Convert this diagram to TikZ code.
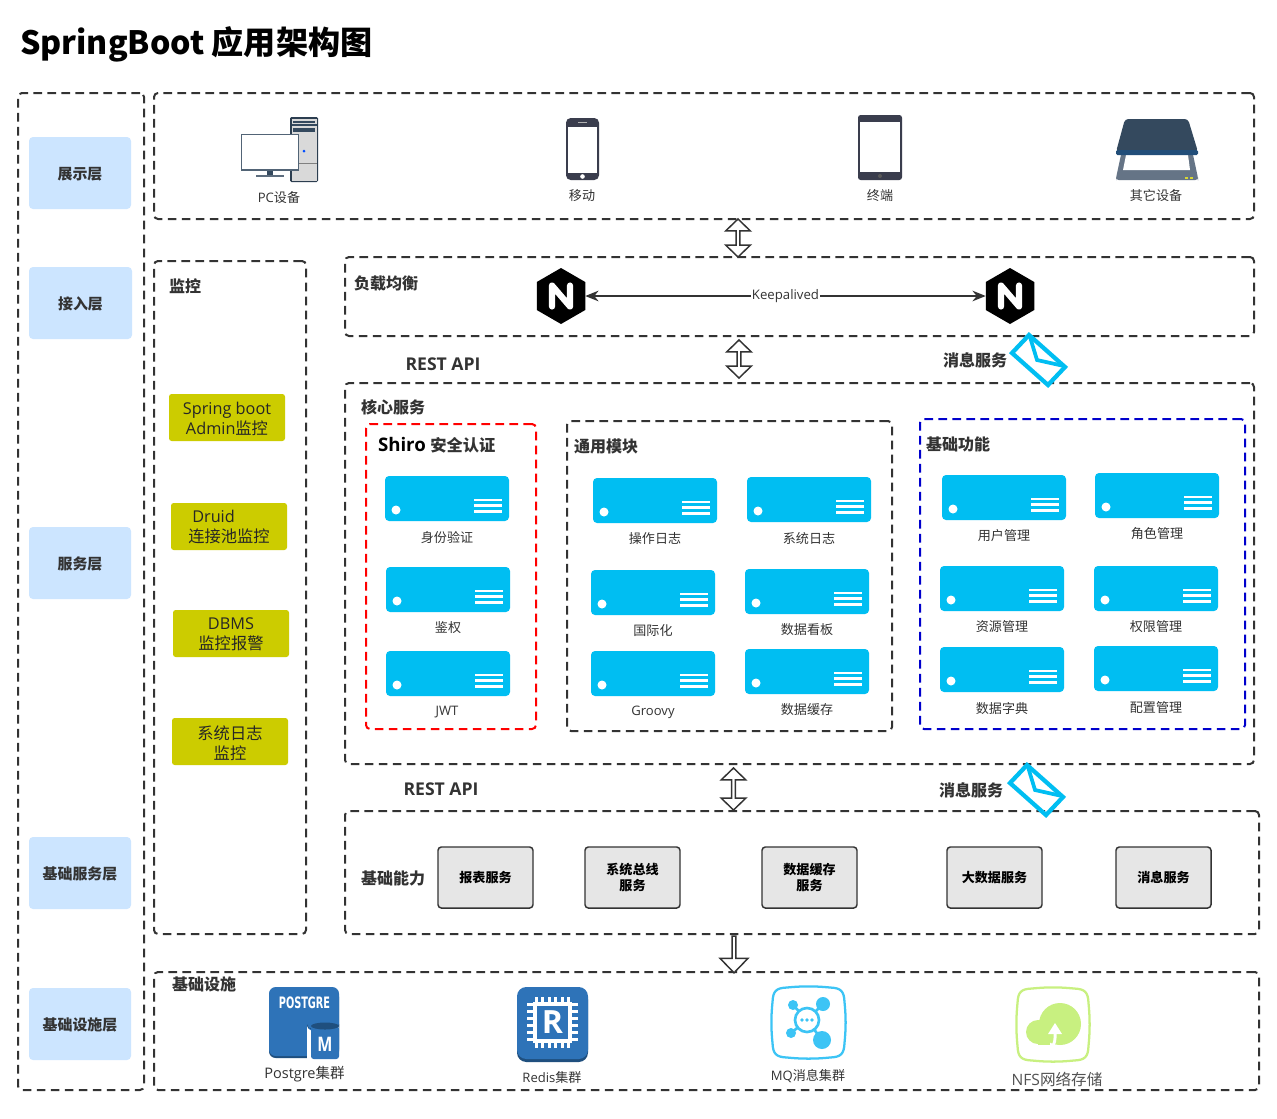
\documentclass[tikz,border=0pt]{standalone}
\usepackage{fontspec}
\setmainfont{Noto Sans CJK SC}
\newfontfamily\lat{Open Sans}
\newfontfamily\djv{DejaVu Sans}
\usetikzlibrary{shapes.geometric,shapes.arrows,arrows.meta}
\definecolor{ink}{HTML}{333333}
\definecolor{cyanb}{HTML}{00BEF2}
\definecolor{layerb}{HTML}{CCE5FF}
\definecolor{yel}{HTML}{CCCC00}
\definecolor{greyb}{HTML}{E6E6E6}
\definecolor{awsb}{HTML}{2E73B8}
\definecolor{awsd}{HTML}{1F4F7E}
\definecolor{dev}{HTML}{3A3D4D}
\definecolor{slate}{HTML}{34495E}
\definecolor{scanb}{HTML}{657486}
\definecolor{mq}{HTML}{3CC4F5}
\definecolor{nfs}{HTML}{C8F080}
\tikzset{
  x=0.75pt,y=-0.75pt,
  every node/.style={inner sep=0pt,outer sep=0pt,text=ink,align=center},
  panel/.style={draw=ink,line width=1.5pt,dash pattern=on 6.5pt off 4pt,rounded corners=3pt},
  layerbox/.style={fill=layerb,rounded corners=3pt,font=\fontsize{11.2pt}{13pt}\selectfont\bfseries},
  yelbox/.style={fill=yel,rounded corners=2pt,font=\fontsize{12.2pt}{15pt}\selectfont,text=black!85},
  greybox/.style={fill=greyb,draw=ink,line width=1.1pt,rounded corners=2.5pt,font=\fontsize{9.8pt}{12pt}\selectfont\bfseries,text=black},
  head/.style={font=\fontsize{12pt}{14pt}\selectfont\bfseries},
  resthead/.style={font=\fontsize{13.2pt}{14pt}\selectfont\bfseries\lat},
  small/.style={font=\fontsize{9.8pt}{12pt}\selectfont},
  blockarrow/.style={draw=ink,line width=1.1pt,fill=white,double arrow,double arrow tip angle=92,double arrow head extend=3pt,minimum width=18.5pt},
  blockdown/.style={draw=ink,line width=1.1pt,fill=white,single arrow,single arrow tip angle=88,single arrow head extend=3.6pt,minimum width=21pt},
  nginx/.style={regular polygon,regular polygon sides=6,shape border rotate=30,fill=black,minimum size=42pt},
  link/.style={draw=ink,line width=1.2pt,{Stealth[length=10pt,width=8pt]}-{Stealth[length=10pt,width=8pt]}},
}
% shift the text of a box down without changing the box
\newcommand{\nudge}[2]{\raisebox{-#1}[\height][\depth]{\begin{tabular}{@{}c@{}}#2\end{tabular}}}
% box from corner to corner
\newcommand{\bx}[7][]{\pgfmathsetmacro{\cxx}{(#3+#5)/2}\pgfmathsetmacro{\cyy}{(#4+#6)/2}\pgfmathsetmacro{\ww}{(#5-#3)*0.75}\pgfmathsetmacro{\hh}{(#6-#4)*0.75}%
  \node[#1,minimum width=\ww pt,minimum height=\hh pt] (#2) at (\cxx,\cyy) {#7};}
% server icon: name, x, y, label, label x, label y
\newcommand{\srv}[6]{%
  \begin{scope}[shift={(#2,#3)}]
    \fill[cyanb,rounded corners=3pt] (0,0) rectangle (124,45);
    \fill[white] (11,34) circle[radius=4.5];
    \foreach \ly in {24,29.7,35.3}{\fill[white] (89,\ly-1.45) rectangle (116.5,\ly+1.45);}
    \coordinate (#1) at (62,22);
  \end{scope}
  \node[small] (#1l) at (#5,#6+1) {#4};}
\newcommand{\envelope}[3]{%
  \begin{scope}[shift={(#2,#3)}]
    \draw[cyanb,line width=3.2pt,miter limit=10,line join=miter] (1012,353)--(1029,335)--(1065,367)--(1048,385)--cycle;
    \draw[cyanb,line width=2.8pt,line join=miter] (1030,337)--(1037,360)--(1064,366);
  \end{scope}}
\newcommand{\ngx}[3]{%
  \node[nginx] (#1) at (#2,#3) {};
  \draw[white,line width=4.6pt,line cap=round,line join=round] (#2-9,#3+10.5)--(#2-9,#3-10.5)--(#2+9,#3+10.5)--(#2+9,#3-10.5);}
% squircle outline
\newcommand{\squircle}[5]{%
  \draw[#1,line width=1.7pt] (#2+15,#3+0.5) .. controls (#2+30,#3-1) and (#4-30,#3-1) .. (#4-15,#3+0.5)
    .. controls (#4-4,#3+1) and (#4-1,#3+4) .. (#4-0.5,#3+15)
    .. controls (#4+1,#3+30) and (#4+1,#5-30) .. (#4-0.5,#5-15)
    .. controls (#4-1,#5-4) and (#4-4,#5-1) .. (#4-15,#5-0.5)
    .. controls (#4-30,#5+1) and (#2+30,#5+1) .. (#2+15,#5-0.5)
    .. controls (#2+4,#5-1) and (#2+1,#5-4) .. (#2+0.5,#5-15)
    .. controls (#2-1,#5-30) and (#2-1,#3+30) .. (#2+0.5,#3+15)
    .. controls (#2+1,#3+4) and (#2+4,#3+1) .. (#2+15,#3+0.5) -- cycle;}
\begin{document}
\begin{tikzpicture}
\useasboundingbox (0,0) rectangle (1277,1118);
\fill[white] (0,0) rectangle (1277,1118);
% title
\node[anchor=west,font=\fontsize{24.1pt}{28pt}\selectfont\bfseries,text=black] (title) at (20,44.5) {SpringBoot 应用架构图};
% panels
\bx[panel]{layers}{18}{93}{144}{1090}{}
\bx[panel]{top}{154}{93}{1254}{219}{}
\bx[panel]{mon}{154}{261}{306}{934}{}
\bx[panel]{lb}{345}{257}{1254}{336}{}
\bx[panel]{core}{345}{383}{1254}{764}{}
\bx[panel,draw=red]{shiro}{366}{424}{536}{729}{}
\bx[panel]{common}{567}{421}{892}{731}{}
\bx[panel,draw=blue!80!black]{basic}{920}{419}{1245}{729}{}
\bx[panel]{cap}{345}{811}{1259}{934}{}
\bx[panel]{infra}{154}{972}{1259}{1090}{}
% layer labels
\bx[layerbox]{l1}{29}{137}{131}{209}{\nudge{2.25pt}{展示层}}
\bx[layerbox]{l2}{29}{267}{132}{339}{\nudge{2.25pt}{接入层}}
\bx[layerbox]{l3}{29}{527}{131}{599}{\nudge{2.25pt}{服务层}}
\bx[layerbox]{l4}{29}{837}{131}{909}{\nudge{2.25pt}{基础服务层}}
\bx[layerbox]{l5}{29}{988}{131}{1060}{\nudge{2.25pt}{基础设施层}}
% headings
\node[head] (h1) at (185,286) {监控};
\node[head] (h2) at (386,283) {负载均衡};
\node[head] (h3) at (393,407) {核心服务};
\node[head,anchor=west] (h4) at (378,445) {\textcolor{black}{\fontsize{14pt}{14pt}\selectfont\lat\bfseries Shiro}\hspace{0.28em}\fontsize{12.2pt}{14pt}\selectfont 安全认证};
\node[head] (h5) at (606,446) {通用模块};
\node[head] (h6) at (958,444) {基础功能};
\node[head] (h7) at (393,878) {基础能力};
\node[head] (h8) at (204,984) {基础设施};
\node[resthead] (r1) at (443,364) {REST API};
\node[resthead] (r2) at (441,789) {REST API};
\node[head] (m1) at (975,360) {消息服务};
\node[head] (m2) at (971,790) {消息服务};
% monitor boxes
\bx[yelbox]{y1}{169}{394}{285}{441}{\nudge{2.2pt}{{\lat Spring boot}\\{\lat Admin}监控}}
\bx[yelbox]{y2}{171}{503}{287}{550}{\nudge{1.8pt}{{\lat Druid}\hspace{1.9em}\mbox{}\\连接池监控}}
\bx[yelbox]{y3}{173}{610}{289}{657}{\nudge{1.75pt}{{\lat DBMS}\\监控报警}}
\bx[yelbox]{y4}{172}{718}{288}{765}{\nudge{2.9pt}{系统日志\\监控}}
% servers
\srv{s1}{385}{476}{身份验证}{447}{537}
\srv{s2}{386}{567}{鉴权}{448}{627}
\srv{s3}{386}{651}{{\lat JWT}}{447}{711}
\srv{c1}{593}{478}{操作日志}{655}{538}
\srv{c2}{747}{477}{系统日志}{809}{537}
\srv{c3}{591}{570}{国际化}{653}{630}
\srv{c4}{745}{569}{数据看板}{807}{629}
\srv{c5}{591}{651}{{\lat Groovy}}{653}{711}
\srv{c6}{745}{649}{数据缓存}{807}{709}
\srv{b1}{942}{475}{用户管理}{1004}{535}
\srv{b2}{1095}{473}{角色管理}{1157}{533}
\srv{b3}{940}{566}{资源管理}{1002}{626}
\srv{b4}{1094}{566}{权限管理}{1156}{626}
\srv{b5}{940}{647}{数据字典}{1002}{707}
\srv{b6}{1094}{646}{配置管理}{1156}{706}
% grey service boxes
\bx[greybox]{g1}{438}{847}{533}{908}{报表服务}
\bx[greybox]{g2}{585}{847}{680}{908}{系统总线\\服务}
\bx[greybox]{g3}{762}{847}{857}{908}{数据缓存\\服务}
\bx[greybox]{g4}{947}{847}{1042}{908}{大数据服务}
\bx[greybox]{g5}{1116}{847}{1211}{908}{消息服务}
% block arrows
\node[blockarrow,rotate=90,minimum height=28.5pt] (a1) at (738,238) {};
\node[blockarrow,rotate=90,minimum height=28.5pt] (a2) at (739,359) {};
\node[blockarrow,rotate=90,minimum height=31.5pt] (a3) at (733.5,789) {};
\node[blockdown,rotate=-90,minimum height=27.5pt] (a4) at (734,953.5) {};
% nginx
\ngx{n1}{561}{296}
\ngx{n2}{1010}{296}
\draw[link] (n1) -- node[fill=white,inner xsep=0.5pt,font=\fontsize{9.9pt}{12pt}\selectfont\lat] (ka) {Keepalived} (n2);
% envelopes
\envelope{e1}{0}{0}
\envelope{e2}{-2}{430}
% PC
\begin{scope}
  \fill[slate!85!black,rounded corners=1pt] (290,117) rectangle (318,182);
  \fill[gray!30] (291.5,118.5) rectangle (316.5,180.5);
  \draw[slate,line width=0.8pt] (291.5,125)--(316.5,125);
  \draw[slate,line width=0.8pt] (293,122)--(315,122);
  \fill[slate] (293,128) rectangle (315,131.5);
  \draw[gray,line width=0.6pt] (291.5,163)--(316.5,163);
  \fill[blue!70!cyan] (304,151) circle[radius=1.5];
  \fill[slate] (267,170) rectangle (273,175);
  \fill[slate!80] (256,175) rectangle (284,177);
  \draw[slate!85,fill=white,line width=0.9pt] (241.5,134.5) rectangle (298.5,170);
\end{scope}
\node[small,font=\fontsize{9.8pt}{12pt}\selectfont] (d1) at (279,198) {{\lat PC}设备};
% phone
\fill[dev,rounded corners=3.5pt] (566,118) rectangle (599,180);
\fill[white] (568,127) rectangle (597,173);
\fill[white] (582.5,176.5) circle[radius=2.3];
\fill[gray!60] (578,122) rectangle (587,123);
\node[small] (d2) at (582,196) {移动};
% tablet
\fill[dev,rounded corners=2pt] (858,115) rectangle (902,180);
\fill[white] (860,122) rectangle (900,172);
\fill[gray!70!black] (880,176) circle[radius=2];
\node[small] (d3) at (880,196) {终端};
% scanner
\fill[scanb,rounded corners=2pt] (1122,150)--(1192,150)--(1198,178)--(1198,180)--(1116,180)--(1116,178)--cycle;
\fill[white] (1126,155)--(1188,155)--(1190,170)--(1123,170)--cycle;
\fill[slate,rounded corners=2.5pt] (1125,119)--(1188,119)--(1198,152)--(1116,152)--cycle;
\fill[awsd!85!slate,rounded corners=1pt] (1116,150) rectangle (1198,155);
\fill[yel!80!white] (1185,177) rectangle (1188,179);
\fill[yel!80!white] (1190,177) rectangle (1193,179);
\node[small] (d4) at (1156,196) {其它设备};
% Postgres
\fill[awsd,rounded corners=5pt] (269,990) rectangle (339,1058);
\fill[awsb,rounded corners=5pt] (269,987) rectangle (339,1056);
\node[font=\bfseries\fontsize{11.8pt}{14pt}\selectfont\djv,text=white,xscale=0.62] (pg) at (304.5,1003) {POSTGRE};
\fill[awsd] (307,1024) arc[start angle=180,end angle=0,x radius=16,y radius=8]--(339,1028)--(307,1028)--cycle;
\fill[white] (307,1060)--(307,1026) arc[start angle=180,end angle=0,x radius=16,y radius=7]--(339,1060)--cycle;
\fill[awsb,rounded corners=2pt] (311,1026) rectangle (339,1059);
\fill[awsd] (311,1026) arc[start angle=180,end angle=360,x radius=14,y radius=3.5] arc[start angle=0,end angle=180,x radius=14,y radius=3.5]--cycle;
\node[font=\bfseries\fontsize{15pt}{15pt}\selectfont\lat,text=white,xscale=0.8] (pgm) at (325,1044) {M};
\node[font=\fontsize{10.9pt}{12pt}\selectfont] (i1) at (304.5,1074.5) {{\lat Postgre}集群};
% Redis
\fill[awsd,rounded corners=7pt] (517,990) rectangle (588,1062);
\fill[awsb,rounded corners=7pt] (517,987) rectangle (588,1059);
\foreach \k in {0,...,5}{
  \fill[white] (534.5+\k*6.5,997) rectangle (537.5+\k*6.5,1048);
  \fill[white] (527,1003+\k*7) rectangle (578,1006+\k*7);
}
\fill[white] (533,1002) rectangle (572,1043);
\fill[awsb] (537,1006) rectangle (568,1039);
\node[font=\bfseries\fontsize{24pt}{24pt}\selectfont\lat,text=white] (rs) at (552.5,1022) {R};
\node[small] (i2) at (552,1078) {{\lat Redis}集群};
% MQ
\squircle{mq}{772}{987}{845}{1058}
\foreach \px/\py/\pr in {793/1005/5,823/1004/7,791/1033/5,822/1040/9}{
  \draw[mq,line width=2pt] (807,1020)--(\px,\py);
  \fill[mq] (\px,\py) circle[radius=\pr];
}
\draw[mq,line width=2pt,fill=white] (807,1020) circle[radius=12];
\foreach \dx in {-5,0,5}{\fill[mq] (807+\dx,1020) circle[radius=1.8];}
\node[small,font=\fontsize{9.8pt}{12pt}\selectfont] (i3) at (808,1076) {{\lat MQ}消息集群};
% NFS
\squircle{nfs}{1017}{988}{1089}{1061}
\fill[nfs] (1060,1024) circle[radius=21];
\fill[nfs] (1038,1032) circle[radius=12];
\fill[nfs] (1038,1020) rectangle (1050,1045);
\draw[white,line width=2.2pt] (1053,1046) .. controls (1056,1040) and (1055,1035) .. (1055,1026);
\fill[white] (1055,1023)--(1062,1034)--(1048,1034)--cycle;
\node[font=\fontsize{11.7pt}{12pt}\selectfont,text=ink!85] (i4) at (1057,1079.5) {{\lat NFS}网络存储};
\end{tikzpicture}
\end{document}
